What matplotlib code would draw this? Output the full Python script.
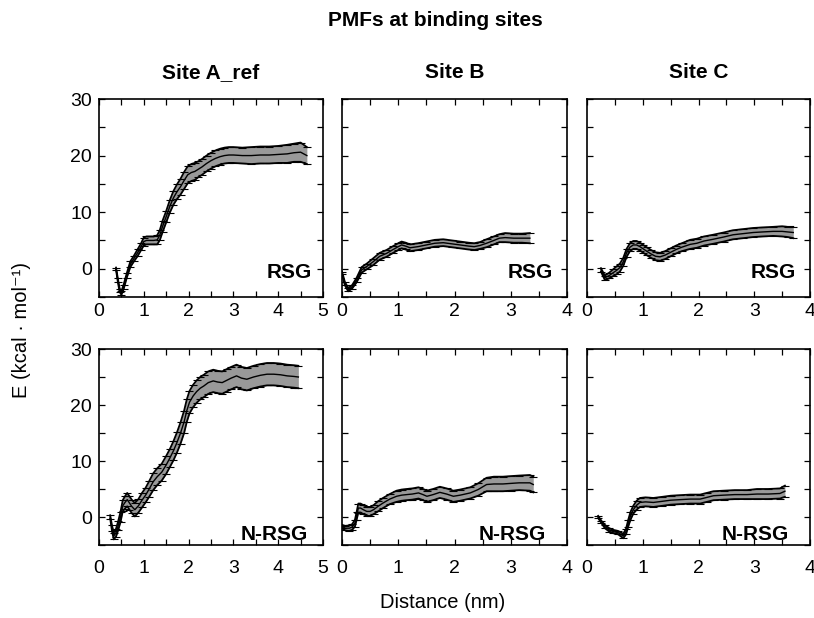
import matplotlib
matplotlib.use("Agg")
import matplotlib.pyplot as plt
from matplotlib.ticker import MultipleLocator

plt.rcParams['font.family'] = ['Liberation Sans', 'DejaVu Sans']

# Site A_ref, RSG
a_rsg_x = [0.38, 0.42, 0.46, 0.50, 0.55, 0.62, 0.70, 0.78, 0.86, 0.94, 1.00, 1.06, 1.14, 1.22, 1.30,
           1.36, 1.42, 1.50, 1.58, 1.66, 1.74, 1.82, 1.90, 1.98, 2.06, 2.14, 2.22, 2.30, 2.40, 2.50,
           2.60, 2.70, 2.80, 2.90, 3.00, 3.20, 3.40, 3.60, 3.80, 4.00, 4.20, 4.35, 4.50, 4.64]
a_rsg_e = [0.0, -2.0, -3.8, -4.3, -3.2, -1.2, 0.8, 1.8, 2.8, 3.9, 4.8, 5.0, 5.0, 5.0, 5.1,
           6.0, 7.5, 9.2, 11.0, 12.5, 13.6, 14.5, 15.6, 16.6, 17.0, 17.2, 17.6, 18.0, 18.6, 19.1,
           19.5, 19.8, 20.0, 20.1, 20.1, 20.0, 20.0, 20.1, 20.1, 20.2, 20.3, 20.5, 20.6, 20.0]
a_rsg_err = [0.2, 0.3, 0.3, 0.3, 0.4, 0.4, 0.5, 0.5, 0.6, 0.6, 0.7, 0.7, 0.7, 0.7, 0.8,
             0.9, 1.0, 1.0, 1.1, 1.2, 1.3, 1.4, 1.5, 1.5, 1.5, 1.5, 1.4, 1.4, 1.4, 1.4,
             1.4, 1.4, 1.4, 1.4, 1.4, 1.4, 1.5, 1.5, 1.5, 1.5, 1.6, 1.6, 1.7, 1.5]

# Site B, RSG
b_rsg_x = [0.00, 0.05, 0.11, 0.18, 0.26, 0.35, 0.44, 0.55, 0.67, 0.79, 0.91, 1.00, 1.06, 1.13, 1.21,
           1.35, 1.50, 1.65, 1.80, 1.95, 2.10, 2.25, 2.35, 2.45, 2.57, 2.70, 2.80, 2.90, 3.05, 3.20, 3.34]
b_rsg_e = [-0.7, -2.6, -3.7, -3.2, -2.0, -0.2, 0.4, 1.2, 2.2, 2.7, 3.4, 3.9, 4.2, 4.0, 3.7,
           3.9, 4.2, 4.5, 4.6, 4.4, 4.2, 4.0, 3.9, 4.1, 4.5, 5.0, 5.4, 5.5, 5.4, 5.4, 5.4]
b_rsg_err = [0.2, 0.3, 0.3, 0.3, 0.4, 0.5, 0.5, 0.6, 0.6, 0.6, 0.6, 0.6, 0.6, 0.6, 0.6,
             0.6, 0.6, 0.6, 0.6, 0.6, 0.6, 0.6, 0.6, 0.6, 0.7, 0.7, 0.7, 0.8, 0.8, 0.8, 0.9]

# Site C, RSG
c_rsg_x = [0.25, 0.32, 0.40, 0.47, 0.53, 0.59, 0.65, 0.71, 0.77, 0.83, 0.89, 0.95, 1.01, 1.07, 1.15,
           1.23, 1.31, 1.40, 1.50, 1.60, 1.70, 1.85, 1.97, 2.10, 2.26, 2.45, 2.62, 2.80, 2.98, 3.15,
           3.34, 3.50, 3.60, 3.70]
c_rsg_e = [-0.2, -1.6, -1.2, -0.7, -0.3, 0.2, 1.2, 2.8, 3.8, 4.2, 4.2, 3.9, 3.5, 3.1, 2.6,
           2.2, 2.1, 2.4, 2.9, 3.4, 3.8, 4.3, 4.5, 4.9, 5.2, 5.6, 6.0, 6.2, 6.4, 6.5,
           6.6, 6.6, 6.5, 6.4]
c_rsg_err = [0.3, 0.4, 0.5, 0.6, 0.7, 0.7, 0.7, 0.7, 0.7, 0.7, 0.7, 0.7, 0.7, 0.7, 0.7,
             0.7, 0.7, 0.7, 0.7, 0.7, 0.7, 0.8, 0.8, 0.8, 0.8, 0.8, 0.8, 0.8, 0.8, 0.8,
             0.8, 0.9, 0.9, 1.0]

# Site A_ref, N-RSG
a_nrsg_x = [0.25, 0.29, 0.33, 0.38, 0.43, 0.48, 0.53, 0.58, 0.63, 0.68, 0.73, 0.80, 0.88, 0.96, 1.04,
            1.12, 1.21, 1.30, 1.40, 1.50, 1.58, 1.66, 1.74, 1.82, 1.90, 1.96, 2.02, 2.10, 2.18, 2.26,
            2.34, 2.44, 2.55, 2.65, 2.75, 2.85, 2.95, 3.07, 3.18, 3.30, 3.45, 3.60, 3.75, 3.90, 4.05,
            4.20, 4.35, 4.45]
a_nrsg_e = [0.0, -2.0, -3.4, -2.8, -1.5, 0.0, 2.0, 2.6, 3.1, 2.5, 1.9, 1.3, 2.0, 3.0, 3.9,
            5.0, 6.3, 7.2, 8.0, 9.3, 10.5, 11.8, 13.3, 15.0, 17.0, 19.0, 20.5, 21.6, 22.4, 23.0,
            23.4, 24.0, 24.3, 24.1, 24.0, 24.4, 24.8, 25.2, 24.8, 24.6, 25.0, 25.3, 25.5, 25.5, 25.4,
            25.2, 25.1, 25.0]
a_nrsg_err = [0.3, 0.5, 0.6, 0.7, 0.8, 0.9, 1.0, 1.1, 1.2, 1.2, 1.2, 1.2, 1.2, 1.3, 1.3,
              1.4, 1.5, 1.5, 1.5, 1.6, 1.6, 1.7, 1.8, 1.9, 2.0, 2.0, 2.0, 2.0, 2.0, 2.0,
              2.0, 2.0, 2.0, 2.0, 2.0, 2.0, 2.0, 2.0, 2.0, 2.0, 2.0, 2.0, 2.0, 2.0, 2.0,
              2.0, 2.0, 2.0]

# Site B, N-RSG
b_nrsg_x = [0.00, 0.06, 0.13, 0.18, 0.23, 0.26, 0.29, 0.33, 0.38, 0.44, 0.50, 0.56, 0.64, 0.73, 0.85,
            0.97, 1.06, 1.15, 1.25, 1.36, 1.44, 1.51, 1.62, 1.74, 1.86, 1.98, 2.10, 2.28, 2.42, 2.57,
            2.70, 2.86, 3.00, 3.15, 3.34, 3.40]
b_nrsg_e = [-1.7, -2.0, -2.0, -1.8, -1.1, 0.2, 1.6, 1.6, 1.3, 1.0, 1.0, 1.3, 1.9, 2.5, 3.2,
            3.7, 3.9, 4.0, 4.1, 4.3, 4.0, 3.7, 4.0, 4.4, 4.1, 3.7, 3.9, 4.3, 4.9, 5.8,
            5.9, 5.9, 6.0, 6.1, 6.1, 5.8]
b_nrsg_err = [0.3, 0.4, 0.5, 0.5, 0.6, 0.7, 0.8, 0.8, 0.8, 0.8, 0.8, 0.8, 0.9, 0.9, 0.9,
              1.0, 1.0, 1.0, 1.0, 1.0, 1.0, 1.0, 1.0, 1.0, 1.0, 1.0, 1.0, 1.0, 1.1, 1.2,
              1.3, 1.3, 1.3, 1.3, 1.4, 1.4]

# Site C, N-RSG
c_nrsg_x = [0.20, 0.26, 0.32, 0.40, 0.47, 0.56, 0.65, 0.70, 0.74, 0.78, 0.83, 0.89, 0.95, 1.05, 1.19,
            1.35, 1.50, 1.67, 1.85, 2.03, 2.15, 2.27, 2.45, 2.65, 2.87, 3.05, 3.25, 3.46, 3.55]
c_nrsg_e = [0.0, -0.9, -1.7, -2.3, -2.6, -2.8, -3.4, -2.6, -1.1, 0.2, 1.3, 2.1, 2.6, 2.7, 2.6,
            2.8, 3.0, 3.1, 3.2, 3.2, 3.5, 3.8, 3.9, 4.0, 4.0, 4.1, 4.1, 4.2, 4.6]
c_nrsg_err = [0.2, 0.2, 0.3, 0.3, 0.3, 0.3, 0.4, 0.5, 0.6, 0.7, 0.7, 0.8, 0.8, 0.8, 0.8,
              0.8, 0.8, 0.8, 0.8, 0.8, 0.8, 0.8, 0.8, 0.8, 0.8, 0.9, 0.9, 0.9, 1.0]

site_titles = ["Site A_ref", "Site B", "Site C"]
x_maxes = [5, 4, 4]
ligands = ["RSG", "N-RSG"]

panels = [
    [(a_rsg_x, a_rsg_e, a_rsg_err), (b_rsg_x, b_rsg_e, b_rsg_err), (c_rsg_x, c_rsg_e, c_rsg_err)],
    [(a_nrsg_x, a_nrsg_e, a_nrsg_err), (b_nrsg_x, b_nrsg_e, b_nrsg_err), (c_nrsg_x, c_nrsg_e, c_nrsg_err)],
]

W, H = 814, 618
fig = plt.figure(figsize=(W / 100, H / 100), dpi=100)

# axes boxes in pixels: (left, right) per column, (top, bottom) per row
cols = [(99, 323), (342, 567), (587, 810)]
rows = [(99, 297), (349, 545)]
lab_x = [[0.95, 0.936, 0.937], [0.933, 0.907, 0.907]]
lab_y = [0.095, 0.025]
xpads = [4, 11]

for r in range(2):
    for c in range(3):
        l, rr = cols[c]
        t, b = rows[r]
        ax = fig.add_axes([l / W, 1 - b / H, (rr - l) / W, (b - t) / H])
        x, e, err = panels[r][c]
        lo = [e[i] - err[i] for i in range(len(e))]
        hi = [e[i] + err[i] for i in range(len(e))]
        ax.fill_between(x, lo, hi, color='0.6', lw=0, zorder=1)
        ax.plot(x, hi, color='k', lw=1.3, marker='_', ms=6, mew=0.8, zorder=3)
        ax.plot(x, lo, color='k', lw=1.3, marker='_', ms=6, mew=0.8, zorder=3)
        ax.plot(x, e, color='k', lw=1.0, zorder=4)

        ax.set_xlim(0, x_maxes[c])
        ax.set_ylim(-5, 30)
        ax.xaxis.set_major_locator(MultipleLocator(1))
        ax.xaxis.set_minor_locator(MultipleLocator(0.5))
        ax.yaxis.set_major_locator(MultipleLocator(10))
        ax.yaxis.set_minor_locator(MultipleLocator(5))
        ax.tick_params(which='both', direction='in', top=True, right=True,
                       length=4, width=0.9, labelsize=14)
        ax.tick_params(axis='x', which='major', pad=xpads[r])
        ax.tick_params(axis='y', which='major', pad=5)
        if c > 0:
            ax.set_yticklabels([])
        for s in ax.spines.values():
            s.set_linewidth(1.2)
        ax.text(lab_x[r][c], lab_y[r], ligands[r], transform=ax.transAxes,
                ha='right', va='baseline', fontsize=15, fontweight='bold')
        if r == 0:
            ax.set_title(site_titles[c], fontsize=15, fontweight='bold', pad=15)

fig.text(435 / W, 1 - 21 / H, "PMFs at binding sites", ha='center', va='center',
         fontsize=15, fontweight='bold')
fig.text(22 / W, 1 - 330 / H, "E (kcal · mol⁻¹)", ha='center', va='center',
         rotation=90, fontsize=14.5)
fig.text(443 / W, 1 - 603 / H, "Distance (nm)", ha='center', va='center', fontsize=14.5)

fig.savefig("out.png", dpi=100)
